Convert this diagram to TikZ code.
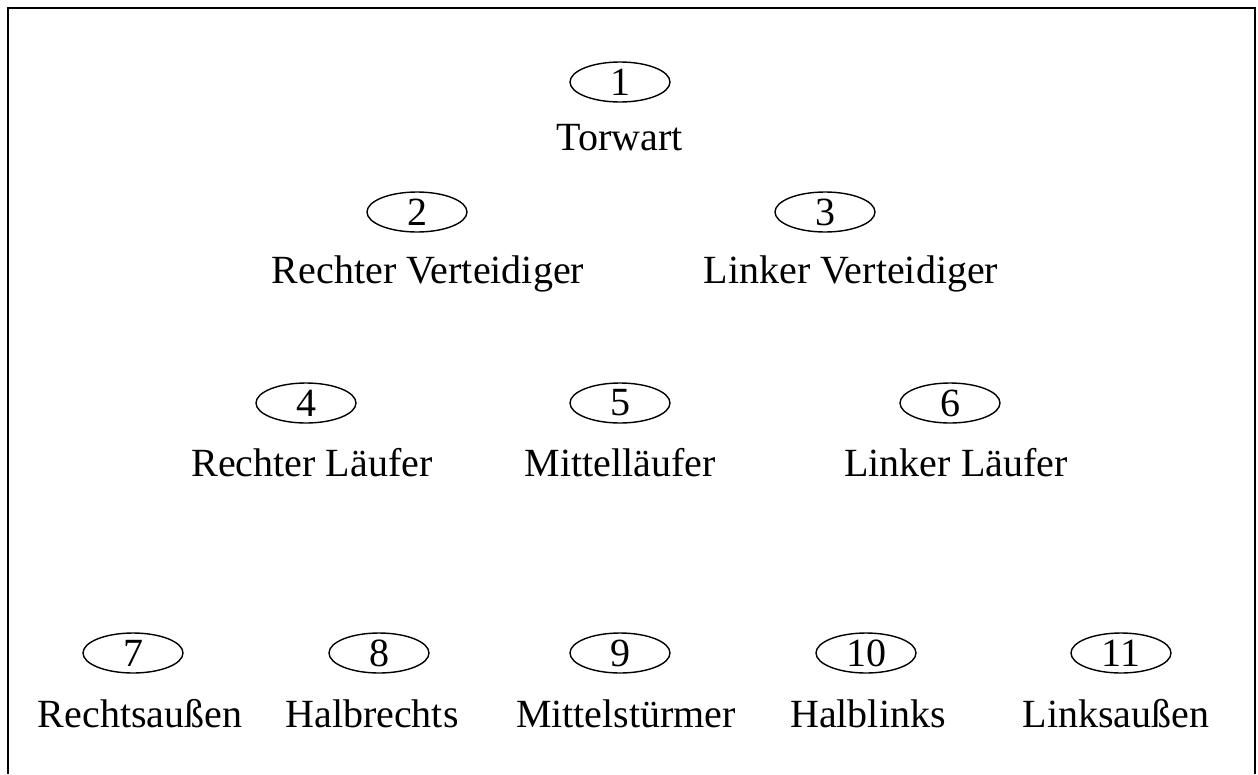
\documentclass[tikz,border=0pt]{standalone}
\usepackage{fontspec}
\setmainfont{Liberation Serif}
\usetikzlibrary{shapes.geometric}
\begin{document}
\begin{tikzpicture}[x=1pt,y=-1pt,
  num/.style={draw, ellipse, minimum width=100pt, minimum height=40pt, inner sep=0pt, line width=1.4pt, font=\fontsize{40}{40}\selectfont},
  lbl/.style={anchor=base, inner sep=0pt, font=\fontsize{40}{40}\selectfont},
  frame/.style={line width=2pt}]
\useasboundingbox (0,0) rectangle (1258,774);
\coordinate (bl) at (8,774);
\coordinate (tl) at (8,8);
\coordinate (tr) at (1255,8);
\coordinate (br) at (1255,774);
\draw[frame] (bl) -- (tl) -- (tr) -- (br);
% row 1
\node[num] (n1) at (620,82) {1};
\node[lbl] (l1) at (620,150) {Torwart};
% row 2
\node[num] (n2) at (417,212) {2};
\node[lbl] (l2) at (428,283) {Rechter Verteidiger};
\node[num] (n3) at (825,212) {3};
\node[lbl] (l3) at (851,283) {Linker Verteidiger};
% row 3
\node[num] (n4) at (306,403) {4};
\node[lbl] (l4) at (312,476) {Rechter Läufer};
\node[num] (n5) at (620,403) {5};
\node[lbl] (l5) at (620,476) {Mittelläufer};
\node[num] (n6) at (950,403) {6};
\node[lbl] (l6) at (956,476) {Linker Läufer};
% row 4
\node[num] (n7) at (133,653) {7};
\node[lbl] (l7) at (140,727) {Rechtsaußen};
\node[num] (n8) at (379,653) {8};
\node[lbl] (l8) at (372,727) {Halbrechts};
\node[num] (n9) at (620,653) {9};
\node[lbl] (l9) at (626,727) {Mittelstürmer};
\node[num] (n10) at (866,653) {10};
\node[lbl] (l10) at (868,727) {Halblinks};
\node[num] (n11) at (1121,653) {11};
\node[lbl] (l11) at (1116,727) {Linksaußen};
\end{tikzpicture}
\end{document}
